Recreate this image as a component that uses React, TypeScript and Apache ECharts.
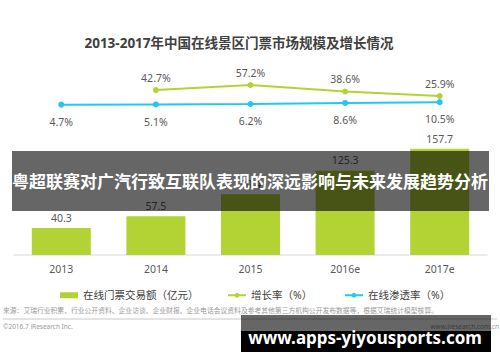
import React, { useEffect, useRef } from "react";
import * as echarts from "echarts";

const categories = ["2013", "2014", "2015", "2016e", "2017e"];
const tradeVolume = [40.3, 57.5, 90.4, 125.3, 157.7];
const growthRate: (number | string)[] = ["-", 42.7, 57.2, 38.6, 25.9];
const penetrationRate = [4.7, 5.1, 6.2, 8.6, 10.5];
const seriesNames = ["在线门票交易额（亿元）", "增长率（%）", "在线渗透率（%）"];

const titleText = "2013-2017年中国在线景区门票市场规模及增长情况";
const sourceText =
  "来源：艾瑞行业积累、行业公开资料、企业访谈、企业财报、企业电话会议资料及参考其他第三方机构公开发布数据等，根据艾瑞统计模型核算。";
const copyrightText = "©2016.7 iResearch Inc.";
const siteText = "www.iresearch.com.cn";
const bannerText = "粤超联赛对广汽行致互联队表现的深远影响与未来发展趋势分析";
const watermarkText = "www.apps-yiyousports.com";

const FONT = "'Noto Sans', 'Noto Sans CJK SC', sans-serif";
const GREEN = "#b3d335";
const CYAN = "#20c8f2";

const legendBase = {
  top: 285,
  itemWidth: 18,
  itemHeight: 6,
  itemGap: 0,
  textStyle: { fontSize: 10.5, color: "#404040", fontFamily: FONT },
};

export default function App() {
  const ref = useRef<HTMLDivElement>(null);
  useEffect(() => {
    if (!ref.current) return;
    const chart = echarts.init(ref.current, undefined, { renderer: "svg" });
    chart.setOption({
      animation: false,
      textStyle: { fontFamily: FONT },
      grid: { left: 14, right: 13, top: 80, bottom: 107, containLabel: false },
      legend: [
        { ...legendBase, left: 55, data: [{ name: seriesNames[0], icon: "rect" }] },
        { ...legendBase, left: 222, data: [{ name: seriesNames[1] }] },
        { ...legendBase, left: 339, data: [{ name: seriesNames[2] }] },
      ],
      xAxis: {
        type: "category",
        data: categories,
        axisLine: { lineStyle: { color: "#e6e6e6", width: 1.5 } },
        axisTick: { show: false },
        axisLabel: { fontSize: 10.5, color: "#595959", margin: 9 },
      },
      yAxis: [
        { type: "value", min: 0, max: 260, show: false },
        { type: "value", min: -427, max: 71.4, show: false },
        { type: "value", min: -345, max: 62, show: false },
      ],
      series: [
        {
          name: seriesNames[0],
          type: "bar",
          yAxisIndex: 0,
          data: tradeVolume,
          barWidth: 59,
          itemStyle: { color: GREEN },
          label: {
            show: true,
            position: "top",
            distance: 5,
            fontSize: 10.5,
            color: "#595959",
          },
        },
        {
          name: seriesNames[1],
          type: "line",
          yAxisIndex: 1,
          data: growthRate,
          symbol: "circle",
          symbolSize: 6,
          lineStyle: { color: GREEN, width: 2 },
          itemStyle: { color: GREEN },
          label: {
            show: true,
            position: "top",
            distance: 4,
            fontSize: 10.5,
            color: "#595959",
            formatter: "{c}%",
          },
        },
        {
          name: seriesNames[2],
          type: "line",
          yAxisIndex: 2,
          data: penetrationRate,
          symbol: "circle",
          symbolSize: 6,
          lineStyle: { color: CYAN, width: 2 },
          itemStyle: { color: CYAN },
          label: {
            show: true,
            position: "bottom",
            distance: 9,
            fontSize: 10.5,
            color: "#595959",
            formatter: "{c}%",
          },
        },
      ],
      graphic: [
        {
          type: "text",
          x: 239,
          y: 43,
          style: {
            text: titleText,
            fontSize: 13.5,
            fontWeight: "bold",
            fill: "#404040",
            fontFamily: FONT,
            align: "center",
            verticalAlign: "middle",
          },
        },
        {
          type: "text",
          x: 3,
          y: 310,
          style: {
            text: sourceText,
            fontSize: 6.8,
            fill: "#9a9a9a",
            fontFamily: FONT,
            verticalAlign: "middle",
          },
        },
        {
          type: "line",
          shape: { x1: 3, y1: 319, x2: 497, y2: 319 },
          style: { stroke: "#c8c8c8", lineWidth: 1 },
        },
        {
          type: "text",
          x: 3,
          y: 326,
          style: {
            text: copyrightText,
            fontSize: 6.5,
            fill: "#9a9a9a",
            fontFamily: FONT,
            verticalAlign: "middle",
          },
        },
        {
          type: "text",
          x: 499,
          y: 326,
          style: {
            text: siteText,
            fontSize: 6.5,
            fill: "#9a9a9a",
            fontFamily: FONT,
            align: "right",
            verticalAlign: "middle",
          },
        },
        {
          type: "rect",
          z: 100,
          shape: { x: 12, y: 151, width: 477, height: 60 },
          style: { fill: "rgba(0,0,0,0.6)" },
        },
        {
          type: "text",
          z: 101,
          x: 250,
          y: 181,
          style: {
            text: bannerText,
            fontSize: 17,
            fontWeight: "bold",
            fill: "#ffffff",
            fontFamily: FONT,
            align: "center",
            verticalAlign: "middle",
          },
        },
        {
          type: "rect",
          z: 100,
          shape: { x: 241, y: 315, width: 250, height: 16 },
          style: { fill: "rgba(0,0,0,0.6)" },
        },
        {
          type: "rect",
          z: 100,
          shape: { x: 241, y: 331, width: 250, height: 21 },
          style: { fill: "#000000" },
        },
        {
          type: "text",
          z: 101,
          x: 365,
          y: 337,
          style: {
            text: watermarkText,
            fontSize: 17,
            fontWeight: "bold",
            fill: "#ffffff",
            fontFamily: FONT,
            align: "center",
            verticalAlign: "middle",
          },
        },
      ],
    });
    return () => chart.dispose();
  }, []);
  return <div ref={ref} style={{ width: 500, height: 362, position: "absolute", left: 0, top: 0 }} />;
}
